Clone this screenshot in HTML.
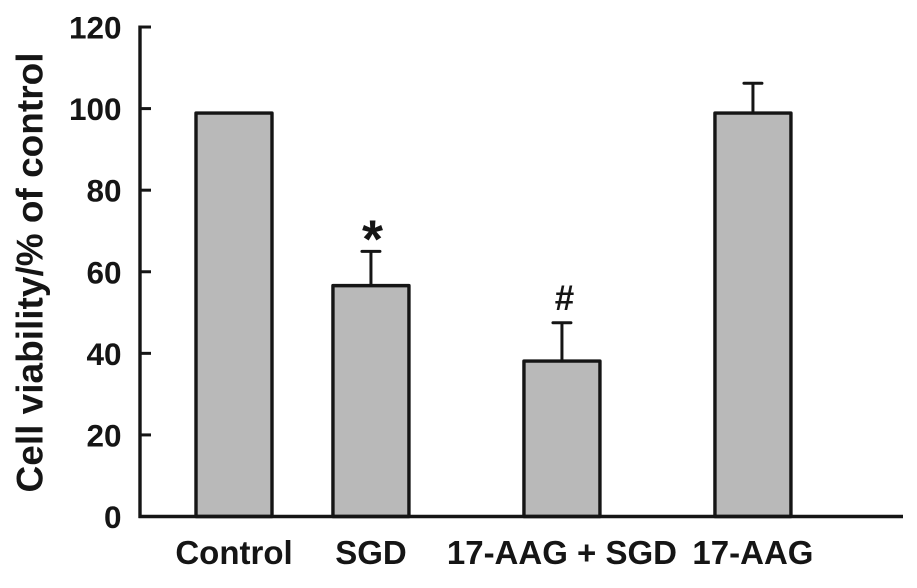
<!DOCTYPE html>
<html lang="en">
<head>
<meta charset="utf-8">
<title>Cell viability chart</title>
<style>
html,body{margin:0;padding:0;background:#fff;}
svg{display:block;}
text{font-family:"Liberation Sans",Arial,sans-serif;font-weight:bold;fill:#151515;}
</style>
</head>
<body>
<svg id="chart" width="917" height="588" viewBox="0 0 917 588" xmlns="http://www.w3.org/2000/svg">
<text transform="translate(42.5,272.5) rotate(-90)" text-anchor="middle" font-size="37">Cell viability/% of control</text>
</svg>
<script>
const categories = ['Control', 'SGD', '17-AAG + SGD', '17-AAG'];
const viability = [98.9, 56.6, 38.1, 98.9];
const errorTops = [null, 65, 47.5, 106.2];
const markers = ['', '*', '#', ''];
const yTicks = [0, 20, 40, 60, 80, 100, 120];
const barSlots = [0, 0.717, 1.717, 2.717];

const svg = document.getElementById('chart');
const NS = 'http://www.w3.org/2000/svg';
const INK = '#151515';

function yScale(v) { return 516.5 - v * 4.079; }
function xScale(slot) { return 234 + slot * 191; }

function make(tag, attrs) {
  const el = document.createElementNS(NS, tag);
  for (const k in attrs) el.setAttribute(k, attrs[k]);
  svg.appendChild(el);
  return el;
}

const barHalf = 38;

categories.forEach(function (cat, i) {
  const cx = xScale(barSlots[i]);
  const top = yScale(viability[i]);
  const bar = make('rect', { x: cx - barHalf, y: top, width: barHalf * 2, height: yScale(0) - top, fill: '#b9b9b9', stroke: INK, 'stroke-width': 3.4, 'stroke-linejoin': 'round' });
  
  

  if (errorTops[i] !== null) {
    const capY = yScale(errorTops[i]);
    const stem = make('line', { x1: cx, x2: cx, y1: top, y2: capY, stroke: INK, 'stroke-width': 3 });
    
    
    const cap = make('line', { x1: cx - 9, x2: cx + 9, y1: capY, y2: capY, stroke: INK, 'stroke-width': 3, 'stroke-linecap': 'round' });
    
    
  }

  if (markers[i]) {
    const isStar = markers[i] === '*';
    const capY = yScale(errorTops[i]);
    const mark = make('text', { x: cx + (isStar ? 1.5 : 2.5), y: capY + (isStar ? 6 : -12.5), 'text-anchor': 'middle', 'font-size': isStar ? 54 : 35 });
    mark.textContent = markers[i];
    
    
  }

  const label = make('text', { x: cx, y: 564, 'text-anchor': 'middle', 'font-size': 33 });
  label.textContent = cat;
  
  
});

const yAxis = make('line', { x1: 140, x2: 140, y1: yScale(120) - 1.5, y2: yScale(0) + 1.5, stroke: INK, 'stroke-width': 3.4 });



const xAxis = make('line', { x1: 138.5, x2: 903, y1: yScale(0), y2: yScale(0), stroke: INK, 'stroke-width': 3.4 });



yTicks.forEach(function (t) {
  const y = yScale(t);
  if (t > 0) {
    const tick = make('line', { x1: 140, x2: 151, y1: y, y2: y, stroke: INK, 'stroke-width': 3 });
    
    
  }
  const lab = make('text', { x: 121.5, y: y + 11.5, 'text-anchor': 'end', 'font-size': 31.5 });
  lab.textContent = t;
  
  
});
</script>
</body>
</html>
